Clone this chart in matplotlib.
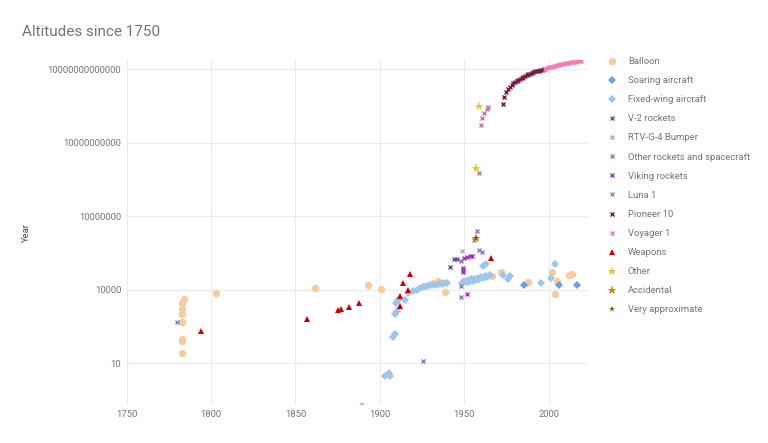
import matplotlib
matplotlib.use("Agg")
import matplotlib.pyplot as plt
from matplotlib.ticker import FixedLocator, FuncFormatter

plt.rcParams['font.family'] = ['Roboto', 'DejaVu Sans']

# Balloon
balloon_years = [1782.8, 1782.8, 1782.8, 1782.8, 1782.8, 1782.8, 1782.8, 1783.9, 1802.9,
                 1861.7, 1892.8, 1900.7, 1926.7, 1931.6, 1934.2, 1938.7, 1966.2, 1971.7,
                 1987.9, 2001.8, 2003.9, 2005.1, 2012.0, 2013.8]
balloon_alt = [2750, 1600, 1000, 460, 100, 80, 25, 4000, 7400,
               11700, 15100, 10500, 13500, 18600, 22400, 7900, 36300, 51300,
               20400, 52500, 6600, 21400, 39800, 41700]

# Soaring aircraft
soaring_years = [1985.5, 2005.9, 2016.9]
soaring_alt = [14800, 15100, 15800]

# Fixed-wing aircraft
fixed_years = [1889.6, 1902.8, 1905.4, 1906.0, 1907.9, 1908.9, 1909.1, 1910.0, 1909.5, 1910.9,
               1914.9, 1916.6, 1919.6, 1921.8, 1923.8, 1925.7, 1927.7, 1929.5, 1931.0, 1933.0,
               1935.0, 1937.0, 1938.0, 1939.9, 1948.5, 1950.0, 1951.0, 1952.0, 1953.0, 1954.0,
               1955.0, 1956.0, 1957.0, 1958.0, 1959.0, 1960.0, 1961.0, 1962.0, 1963.0, 1964.0,
               1965.0, 1961.3, 1962.8, 1973.1, 1975.7, 1977.1, 1995.6, 2001.5, 2003.9]
fixed_alt = [0.17, 3.0, 4.0, 2.9, 112, 150, 980, 1300, 2900, 3700,
             3600, 7200, 8900, 10000, 11500, 12900, 13800, 15000, 15500, 16000,
             16500, 17000, 17800, 17800, 19000, 22000, 20000, 24000, 21000, 26000,
             23000, 28000, 25000, 30000, 27000, 32000, 29000, 34000, 31000, 36000,
             38000, 93000, 112000, 38000, 26300, 35500, 19000, 29500, 112000]

# Rockets and spacecraft
v2_years = [1941.7, 1943.7, 1945.9]
v2_alt = [85000, 174000, 174000]

bumper_years = [1948.8]
bumper_alt = [380000]

other_rocket_years = [1779.8, 1925.7, 1947.9, 1948.0, 1948.2, 1955.8, 1957.7, 1958.9, 1960.7]
other_rocket_alt = [460, 12, 4800, 14000, 145000, 1050000, 2500000, 410000, 340000]

viking_years = [1950.0, 1951.8, 1953.4, 1954.4, 1949.4, 1949.4, 1949.2, 1951.8]
viking_alt = [200000, 219000, 240000, 240000, 77600, 63000, 50000, 6300]

luna_years = [1958.9, 1959.7, 1960.7, 1961.9, 1963.3, 1963.9]
luna_alt = [5.9e8, 5.0e10, 1.02e11, 1.55e11, 2.24e11, 2.9e11]

pioneer_years = [1972.7, 1973.7, 1975, 1976, 1977, 1978, 1979, 1980, 1981, 1982, 1983,
                 1984, 1985, 1986, 1987, 1988, 1989, 1990, 1991, 1992, 1993, 1994,
                 1995, 1996, 1997]
pioneer_alt = [3.7e11, 7.4e11, 1.17e12, 1.51e12, 1.9e12, 2.24e12, 2.63e12, 3.02e12,
               3.31e12, 3.63e12, 3.98e12, 4.37e12, 4.79e12, 5.13e12, 5.62e12, 6.03e12,
               6.46e12, 6.92e12, 7.41e12, 7.94e12, 8.32e12, 8.71e12, 9.12e12, 9.55e12, 1.0e13]

voyager_years = [1998, 1999, 2000, 2001, 2002, 2003, 2004, 2005, 2006, 2007, 2008,
                 2009, 2010, 2011, 2012, 2013, 2014, 2015, 2016, 2017, 2018, 2019]
voyager_alt = [1.05e13, 1.1e13, 1.16e13, 1.21e13, 1.27e13, 1.32e13, 1.38e13, 1.43e13,
               1.48e13, 1.54e13, 1.59e13, 1.65e13, 1.7e13, 1.75e13, 1.81e13, 1.86e13,
               1.92e13, 1.97e13, 2.02e13, 2.08e13, 2.13e13, 2.18e13]

# Weapons and others
weapons_years = [1793.8, 1856.8, 1875.0, 1877.0, 1881.9, 1887.8, 1911.9, 1911.9,
                 1913.9, 1916.8, 1917.8, 1965.8]
weapons_alt = [200, 630, 1450, 1550, 1850, 2900, 2100, 5400, 18000, 9600, 44000, 190000]

other_years = [1956.8, 1958.7]
other_alt = [9e8, 3.1e11]

accidental_years = [1957.0]
accidental_alt = [1.3e6]

approx_years = [1957.0]
approx_alt = [1.25e6]

tick_years = [1750, 1800, 1850, 1900, 1950, 2000]
tick_alts = [10, 1e4, 1e7, 1e10, 1e13]

fig = plt.figure(figsize=(7.68, 4.43), dpi=100)
ax = fig.add_axes([126.7 / 768, 1 - 404 / 443, (587 - 126.7) / 768, (404 - 60) / 443])

def pts(x, y, label, marker, color, size, mew=0.0, z=3):
    if marker == 'x':
        ax.plot(x, y, linestyle='none', marker='x', color=color, markersize=size,
                markeredgewidth=1.0, label=label, zorder=z)
    else:
        ax.plot(x, y, linestyle='none', marker=marker, color=color, markersize=size,
                markeredgewidth=mew, markeredgecolor=color, label=label, zorder=z)

pts(balloon_years, balloon_alt, "Balloon", 'o', '#f9cb9c', 5.3)
pts(soaring_years, soaring_alt, "Soaring aircraft", 'D', '#6d9eeb', 4.3)
pts(fixed_years, fixed_alt, "Fixed-wing aircraft", 'D', '#9fc5e8', 4.3)
pts(v2_years, v2_alt, "V-2 rockets", 'x', '#674ea7', 3.2)
pts(bumper_years, bumper_alt, "RTV-G-4 Bumper", 'x', '#b4a7d6', 3.2)
pts(other_rocket_years, other_rocket_alt, "Other rockets and spacecraft", 'x', '#8e7cc3', 3.2)
pts(viking_years, viking_alt, "Viking rockets", 'x', '#a135c9', 3.2)
pts(luna_years, luna_alt, "Luna 1", 'x', '#c27ba0', 3.2)
pts(pioneer_years, pioneer_alt, "Pioneer 10", 'x', '#741b47', 3.2)
pts(voyager_years, voyager_alt, "Voyager 1", 'x', '#f27bb2', 3.2)
pts(weapons_years, weapons_alt, "Weapons", '^', '#cc0000', 4.3)
pts(other_years, other_alt, "Other", '*', '#f1c232', 6.5)
pts(accidental_years, accidental_alt, "Accidental", '*', '#bf9000', 6.5)
pts(approx_years, approx_alt, "Very approximate", '*', '#7f6000', 5.0)

ax.set_yscale('log')
ax.set_xlim(1750, 2022.7)
ax.set_ylim(0.212, 2.34e13)

ax.xaxis.set_major_locator(FixedLocator(tick_years))
ax.yaxis.set_major_locator(FixedLocator(tick_alts))
ax.yaxis.set_minor_locator(FixedLocator([]))
ax.yaxis.set_major_formatter(FuncFormatter(lambda v, p: "%d" % round(v)))

for s in ax.spines.values():
    s.set_visible(False)
ax.grid(True, color='#ebebeb', linewidth=0.8, zorder=0)
ax.set_axisbelow(True)
ax.tick_params(length=0, labelsize=6.8, labelcolor='#757575', pad=4)

ax.set_ylabel("Year", fontsize=6.8, color='#444444')
ax.yaxis.set_label_coords(-0.208, 0.5)

fig.text(22 / 768, 1 - 32 / 443, "Altitudes since 1750", fontsize=11, color='#757575',
         va='center', ha='left')

leg = ax.legend(loc='upper left', bbox_to_anchor=(607 / 768, 1 - 57 / 443),
                bbox_transform=fig.transFigure, frameon=False, fontsize=6.8,
                labelspacing=1.07, handlelength=1.0, handletextpad=1.2,
                borderaxespad=0, borderpad=0, numpoints=1)
for t in leg.get_texts():
    t.set_color('#757575')

fig.savefig("out.png", dpi=100)
